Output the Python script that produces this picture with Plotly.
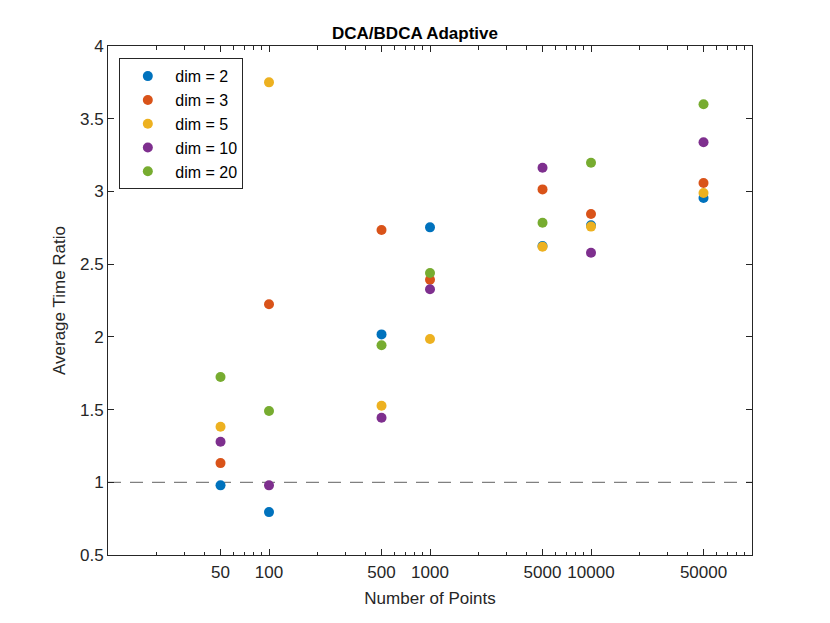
import plotly.graph_objects as go

# Number of points (x, log scale) and average time ratio per dimension
n_points = [50, 100, 500, 1000, 5000, 10000, 50000]
tick_text = ['50', '100', '500', '1000', '5000', '10000', '50000']

dim_labels = ['dim = 2', 'dim = 3', 'dim = 5', 'dim = 10', 'dim = 20']
dim2 = [0.979, 0.795, 2.017, 2.753, 2.625, 2.768, 2.955]
dim3 = [1.132, 2.224, 2.735, 2.393, 3.014, 2.845, 3.058]
dim5 = [1.382, 3.750, 1.526, 1.985, 2.620, 2.758, 2.989]
dim10 = [1.279, 0.979, 1.444, 2.327, 3.163, 2.578, 3.338]
dim20 = [1.724, 1.490, 1.942, 2.439, 2.785, 3.197, 3.599]

threshold = 1

colors = ['#0072BD', '#D95319', '#EDB120', '#7E2F8E', '#77AC30']
axis_col = '#262626'
font = 'Liberation Sans, Arial, sans-serif'
fs = 17

fig = go.Figure()
for name, ys, c in zip(dim_labels, [dim2, dim3, dim5, dim10, dim20], colors):
    fig.add_trace(go.Scatter(x=n_points, y=ys, mode='markers', name=name,
                             marker=dict(color=c, size=10, line=dict(width=0))))

fig.add_hline(y=threshold, line=dict(color='#808080', width=1.3, dash='13px,9px'), layer='below')

# minor log ticks 20..90, 200..900 etc
minor_vals = [m * 10 ** e for e in range(1, 5) for m in range(2, 10)]

# page body has an 8px margin, so the figure is a bit smaller than the window
fig.update_layout(
    width=814, height=607,
    margin=dict(l=100, r=70, t=38, b=60),
    plot_bgcolor='white', paper_bgcolor='white',
    font=dict(family=font, size=fs, color=axis_col),
    title=dict(text='<b>DCA/BDCA Adaptive</b>', x=0.5, xanchor='center', y=0.959, yanchor='middle',
               font=dict(family=font, size=fs, color='black')),
    showlegend=True,
    legend=dict(x=0.0176, y=0.976, xanchor='left', yanchor='top',
                bgcolor='white', bordercolor=axis_col, borderwidth=1,
                font=dict(family=font, size=16, color='black'),
                tracegroupgap=0, itemwidth=45),
)

fig.update_xaxes(
    type='log', range=[1, 5],
    tickmode='array', tickvals=n_points + [10, 100000], ticktext=tick_text + ['', ''],
    ticks='inside', ticklen=6, tickcolor=axis_col, tickwidth=1,
    minor=dict(tickvals=minor_vals, ticks='inside', ticklen=3.5, tickcolor=axis_col, tickwidth=1, showgrid=False),
    showline=True, linecolor=axis_col, linewidth=1, mirror='allticks',
    showgrid=False, zeroline=False, ticklabelstandoff=2,
    tickfont=dict(family=font, size=fs, color=axis_col),
    title=dict(text='Number of Points', standoff=10, font=dict(family=font, size=fs, color=axis_col)),
)
fig.update_yaxes(
    range=[0.5, 4], dtick=0.5, tick0=0.5,
    ticks='inside', ticklen=6, tickcolor=axis_col, tickwidth=1,
    showline=True, linecolor=axis_col, linewidth=1, mirror='allticks',
    showgrid=False, zeroline=False,
    tickfont=dict(family=font, size=fs, color=axis_col),
    title=dict(text='Average Time Ratio', standoff=10, font=dict(family=font, size=fs, color=axis_col)),
)

fig.write_html('out.html')
